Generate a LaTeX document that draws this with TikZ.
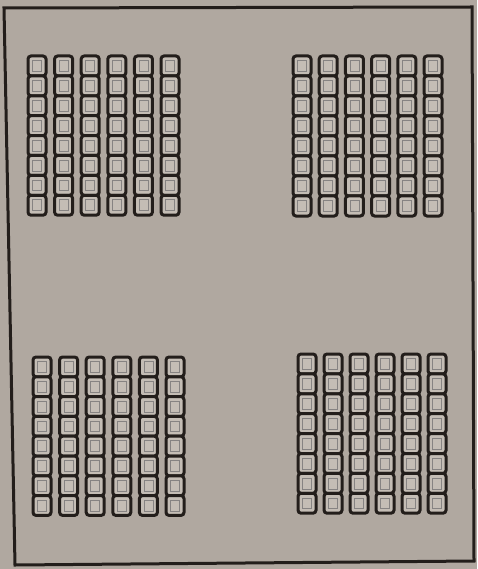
\documentclass[tikz,border=0pt]{standalone}
\definecolor{paper}{RGB}{176,168,160}
\definecolor{ink}{RGB}{35,30,27}
\definecolor{cellin}{RGB}{196,189,181}
\tikzset{
  seat/.style={draw=ink, line width=3pt, rounded corners=3pt, fill=cellin},
  seatin/.style={draw=ink!55, line width=0.6pt},
  frame/.style={draw=ink, line width=3pt}
}
\newcommand{\seatblock}[4]{% x0, y0 (top-left), column pitch, row pitch
  \foreach \c in {0,...,5}{
    \foreach \r in {0,...,7}{
      \draw[seat] ({#1+\c*#3}, {-(#2+\r*#4)}) rectangle ++(18,-{#4});
      \draw[seatin] ({#1+\c*#3+4.5}, {-(#2+\r*#4+4.5)}) rectangle ++(9,{-(#4-9)});
    }
  }
}
\begin{document}
\begin{tikzpicture}[x=1pt,y=1pt]
\useasboundingbox (0,0) rectangle (477,-569);
\fill[paper] (0,0) rectangle (477,-569);
\draw[frame] (4,-8) -- (472,-7) -- (474,-561) -- (15,-565) -- cycle;
\seatblock{28}{56}{26.6}{19.9}
\seatblock{293}{56}{26.2}{20}
\seatblock{33}{357}{26.6}{19.8}
\seatblock{298}{354}{26}{19.9}
\end{tikzpicture}
\end{document}
